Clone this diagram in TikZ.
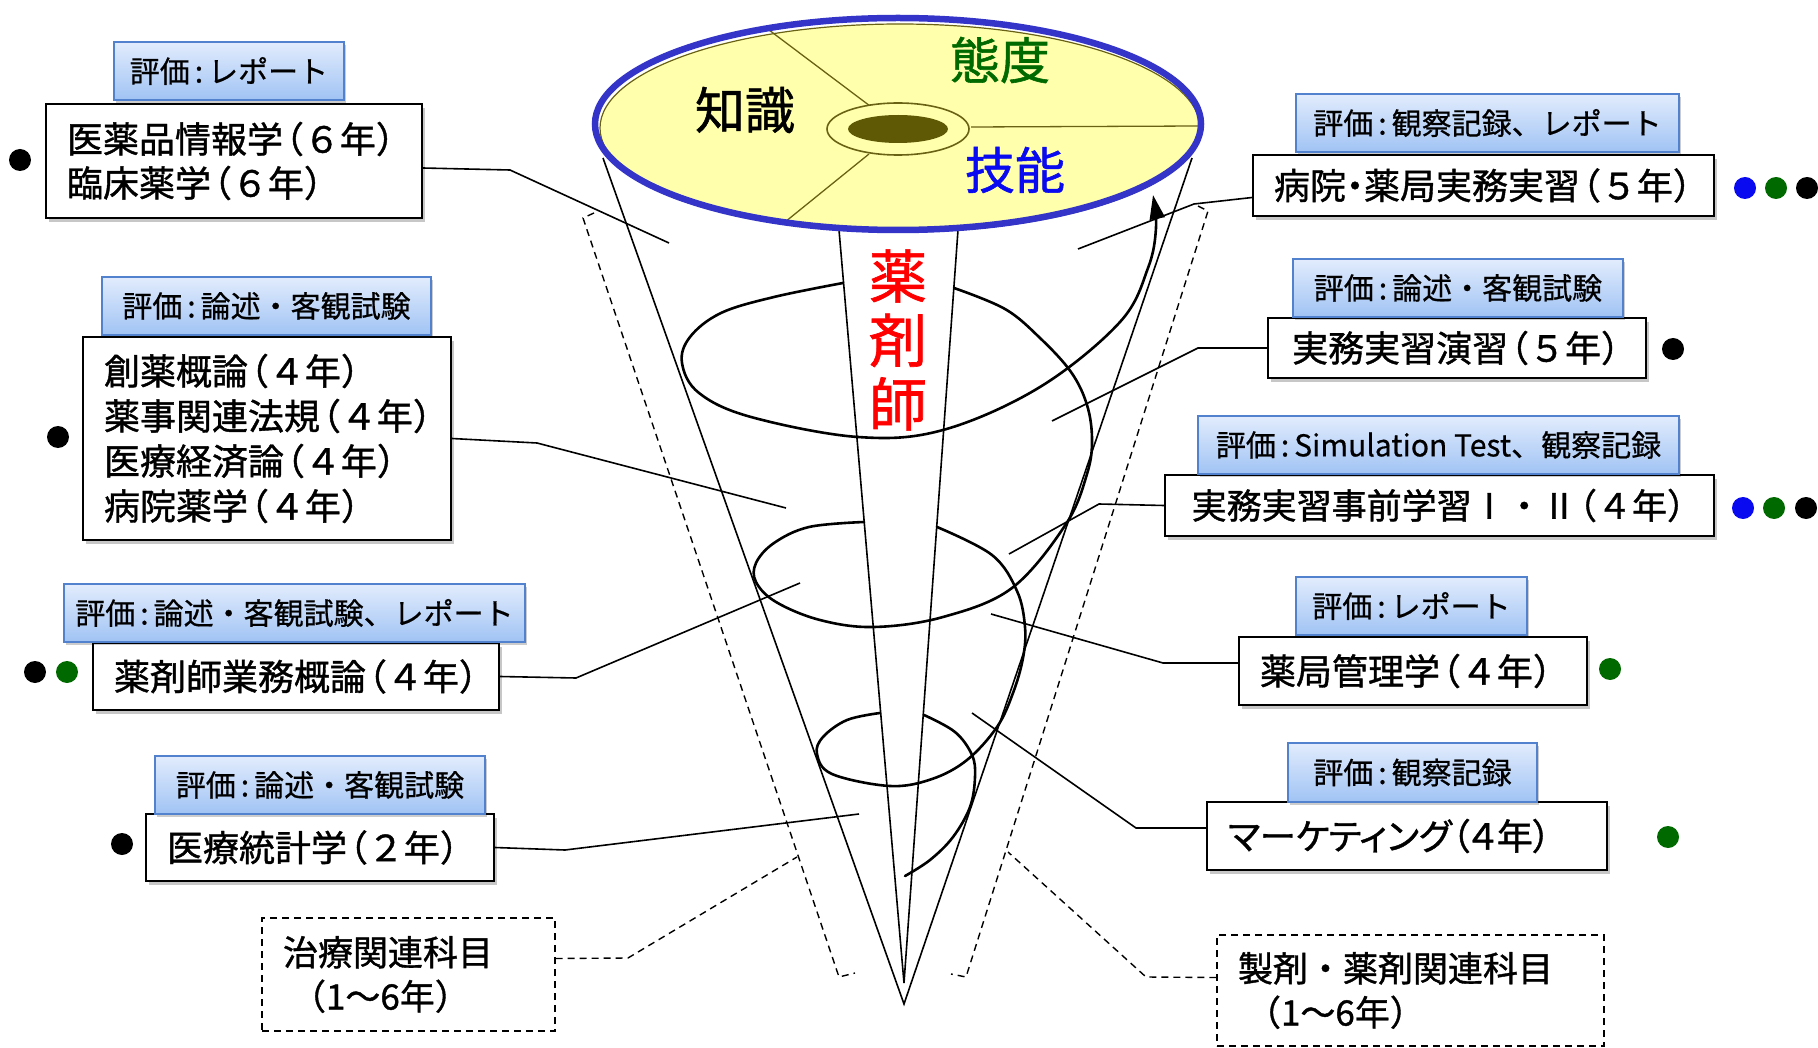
\documentclass[tikz,border=0pt]{standalone}
\usepackage{fontspec}
\setmainfont{Noto Sans CJK JP}
\newfontfamily\jpm{Noto Sans CJK JP}[FakeBold=1.1]
\newfontfamily\jpe{Noto Sans CJK JP}[FakeBold=0.6]
\newfontfamily\jpp{Noto Sans CJK JP}[FakeBold=1.1,RawFeature=+palt]
\newcommand\jlp{\kern-0.42em（}
\newcommand\jrp{）\kern-0.42em}
\newcommand\jdot{\kern-0.25em・\kern-0.25em}
\usetikzlibrary{shadows,arrows.meta}
\definecolor{evaltop}{RGB}{226,236,253}
\definecolor{evalbot}{RGB}{160,195,244}
\definecolor{evalborder}{RGB}{82,130,205}
\definecolor{diskfill}{RGB}{255,255,172}
\definecolor{diskolive}{RGB}{105,98,20}
\definecolor{holefill}{RGB}{95,88,5}
\definecolor{ringblue}{RGB}{52,52,200}
\definecolor{dgreen}{RGB}{0,105,0}
\definecolor{dblue}{RGB}{10,10,240}
\definecolor{kred}{RGB}{255,0,0}
\begin{document}
\begin{tikzpicture}[x=1pt,y=-1pt,
  cone/.style={line width=1.6pt},
  spiral/.style={line width=2.6pt, line cap=round},
  dashline/.style={line width=1.4pt, dash pattern=on 7pt off 5pt},
  conn/.style={line width=1.6pt},
  dconn/.style={line width=1.4pt, dash pattern=on 7pt off 5pt},
  mainbox/.style={draw=black, line width=1.8pt, fill=white, inner xsep=21pt, inner ysep=0pt,
    font=\jpm\fontsize{36}{44}\selectfont,
    drop shadow={shadow xshift=3pt, shadow yshift=-4pt, opacity=0.22, fill=black}},
  dashbox/.style={draw=black, line width=1.4pt, dash pattern=on 7pt off 5pt, fill=white,
    inner xsep=21pt, inner ysep=0pt, font=\jpm\fontsize{35}{44}\selectfont},
  evalbox/.style={draw=evalborder, line width=1.4pt, top color=evaltop, bottom color=evalbot,
    inner sep=0pt, font=\jpe\fontsize{30}{36}\selectfont,
    drop shadow={shadow xshift=2pt, shadow yshift=-3pt, opacity=0.2, fill=black}},
  dot/.style={circle, minimum size=22pt, inner sep=0pt},
  bigtext/.style={font=\jpm\fontsize{50}{60}\selectfont, inner sep=0pt}
]
\fill[white] (0,0) rectangle (1818,1048);
\useasboundingbox (0,0) rectangle (1818,1048);

% ---------- cone ----------
\coordinate (apex) at (904,1004);
\coordinate (iapex) at (904,983);
\draw[cone] (603,158) -- (apex) -- (1192,158);

% dashed side lines
\draw[dashline] (594,213) -- (583,218) -- (839,977) -- (855,973);
\draw[dashline] (1198,206) -- (1208,211) -- (966,977) -- (951,974);

% spiral
\draw[spiral] plot[smooth, tension=0.6] coordinates {(905,876) (930,860) (953,837) (970,807) (975,777) (972,755) (955,732) (924,715)};
\draw[spiral] plot[smooth, tension=0.6] coordinates {(880,713) (847,720) (823,737) (817,754) (832,774) (890,786) (932,779) (967,760) (997,727) (1013,693) (1023,658) (1025,627) (1017,591) (992,555) (937,527)};
\draw[spiral] plot[smooth, tension=0.6] coordinates {(864,522) (809,527) (774,543) (756,563) (756,582) (776,602) (820,620) (874,627) (943,617) (1012,588) (1066,524) (1087,474) (1092,440) (1087,405) (1071,372) (1040,338) (1005,309) (954,288)};
\draw[spiral, -{Triangle[length=24pt,width=15pt]}] plot[smooth, tension=0.6] coordinates {(843,283) (774,297) (721,313) (690,337) (682,363) (699,393) (751,417) (858,437) (943,430) (1040,387) (1120,322) (1148,268) (1156,228) (1153,195)};

% inner wedge
\draw[cone] (839,230) -- (iapex) -- (958,230);

% ---------- top disk ----------
\fill[diskfill, draw=diskolive, line width=1.2pt] (900,128) ellipse [x radius=300, y radius=104];
\draw[diskolive, line width=1.3pt] (769,30) -- (870,106);
\draw[diskolive, line width=1.3pt] (971,127) -- (1199,126);
\draw[diskolive, line width=1.3pt] (869,154) -- (785,222);
\filldraw[fill=diskfill, draw=diskolive, line width=1.6pt] (898,129) ellipse [x radius=71, y radius=26];
\fill[holefill] (898,129) ellipse [x radius=50, y radius=14];
\draw[ringblue, line width=6.5pt] (898,124) ellipse [x radius=303, y radius=106];

\node[bigtext] (kn) at (745,110) {知識};
\node[bigtext, text=dgreen] (td) at (1000,60) {態度};
\node[bigtext, text=dblue] (gn) at (1015,170) {技能};
\node[font=\jpm\fontsize{58}{64}\selectfont, text=kred, align=center, inner sep=0pt] (ph) at (898,340) {薬\\剤\\師};

% ---------- connector ends ----------
\coordinate (c1) at (669,243);
\coordinate (c2) at (786,508);
\coordinate (c3) at (800,583);
\coordinate (c4) at (859,814);
\coordinate (c5) at (797,857);
\coordinate (c6) at (1078,249);
\coordinate (c7) at (1052,421);
\coordinate (c8) at (1009,554);
\coordinate (c9) at (991,614);
\coordinate (c10) at (972,713);
\coordinate (c11) at (1008,852);

% ---------- left boxes ----------
\node[mainbox, minimum width=376pt, minimum height=114pt, text width=334pt, align=left] (b1) at (234,161) {医薬品情報学\jlp６年\jrp\\臨床薬学\jlp６年\jrp};
\node[evalbox, minimum width=230pt, minimum height=58pt] (e1) at (229,71) {評価\,:\,レポート};

\node[mainbox, minimum width=368pt, minimum height=203pt, text width=326pt, align=left, font=\jpm\fontsize{36}{45}\selectfont] (b2) at (267,438.5) {創薬概論\jlp４年\jrp\\薬事関連法規\jlp４年\jrp\\医療経済論\jlp４年\jrp\\病院薬学\jlp４年\jrp};
\node[evalbox, minimum width=329pt, minimum height=58pt] (e2) at (266.5,306) {評価\,:\,論述・客観試験};

\node[mainbox, minimum width=406pt, minimum height=67pt, text width=364pt, align=left] (b3) at (296,676.5) {薬剤師業務概論\jlp４年\jrp};
\node[evalbox, minimum width=461pt, minimum height=58pt] (e3) at (294.5,613) {評価\,:\,論述・客観試験、レポート};

\node[mainbox, minimum width=348pt, minimum height=67pt, text width=306pt, align=left] (b4) at (320,847.5) {医療統計学\jlp２年\jrp};
\node[evalbox, minimum width=330pt, minimum height=58pt] (e4) at (320,785) {評価\,:\,論述・客観試験};

\node[dashbox, minimum width=293pt, minimum height=113pt, text width=251pt, align=left] (t5) at (408.5,974.5) {治療関連科目\\\hspace*{8pt}（1〜6年）};

% ---------- right boxes ----------
\node[mainbox, minimum width=461pt, minimum height=61pt, text width=419pt, align=left] (b6) at (1483.5,185.5) {病院\jdot 薬局実務実習\jlp５年\jrp};
\node[evalbox, minimum width=383pt, minimum height=58pt] (e6) at (1487.5,123) {評価\,:\,観察記録、レポート};

\node[mainbox, minimum width=378pt, minimum height=60pt, text width=336pt, align=center] (b7) at (1457,348) {実務実習演習\jlp５年\jrp};
\node[evalbox, minimum width=330pt, minimum height=58pt] (e7) at (1458,288) {評価\,:\,論述・客観試験};

\node[mainbox, minimum width=549pt, minimum height=61pt, inner xsep=20pt, text width=509pt, align=center, font=\jpm\fontsize{35}{44}\selectfont] (b8) at (1439.5,505.5) {実務実習事前学習Ⅰ・Ⅱ\jlp４年\jrp};
\node[evalbox, minimum width=481pt, minimum height=58pt] (e8) at (1438.5,445) {評価\,:\,Simulation Test、観察記録};

\node[mainbox, minimum width=348pt, minimum height=68pt, text width=306pt, align=left] (b9) at (1413,671) {薬局管理学\jlp４年\jrp};
\node[evalbox, minimum width=231pt, minimum height=58pt] (e9) at (1411.5,606) {評価\,:\,レポート};

\node[mainbox, minimum width=400pt, minimum height=68pt, text width=358pt, align=left, font=\jpp\fontsize{36}{44}\selectfont] (b10) at (1407,836) {マーケティング（４年）};
\node[evalbox, minimum width=249pt, minimum height=59pt] (e10) at (1412.5,772.5) {評価\,:\,観察記録};

\node[dashbox, minimum width=387pt, minimum height=111pt, text width=345pt, align=left] (t11) at (1410.5,990.5) {製剤・薬剤関連科目\\\hspace*{8pt}（1〜6年）};

% ---------- connectors ----------
\draw[conn] ([yshift=-7pt]b1.east) -- (510,170) -- (c1);
\draw[conn] (b2.east) -- (537,443) -- (c2);
\draw[conn] (b3.east) -- (576,678) -- (c3);
\draw[conn] (b4.east) -- (565,850) -- (c4);
\draw[dconn] ([yshift=16pt]t5.east) -- (628,958) -- (c5);
\draw[conn] ([yshift=-12pt]b6.west) -- (1194,204) -- (c6);
\draw[conn] (b7.west) -- (1198,348) -- (c7);
\draw[conn] (b8.west) -- (1099,504) -- (c8);
\draw[conn] ([yshift=8pt]b9.west) -- (1163,663) -- (c9);
\draw[conn] ([yshift=8pt]b10.west) -- (1136,828) -- (c10);
\draw[dconn] ([yshift=13pt]t11.west) -- (1146,977) -- (c11);

% ---------- dots ----------
\node[dot, fill=black] (d1) at (20,160) {};
\node[dot, fill=black] (d2) at (58,437) {};
\node[dot, fill=black] (d3a) at (35,672) {};
\node[dot, fill=dgreen] (d3b) at (67,672) {};
\node[dot, fill=black] (d4) at (122,844) {};
\node[dot, fill=dblue] (d6a) at (1745,188) {};
\node[dot, fill=dgreen] (d6b) at (1776,188) {};
\node[dot, fill=black] (d6c) at (1807,188) {};
\node[dot, fill=black] (d7) at (1673,349) {};
\node[dot, fill=dblue] (d8a) at (1743,508) {};
\node[dot, fill=dgreen] (d8b) at (1774,508) {};
\node[dot, fill=black] (d8c) at (1806,508) {};
\node[dot, fill=dgreen] (d9) at (1610,669) {};
\node[dot, fill=dgreen] (d10) at (1668,837) {};
\end{tikzpicture}
\end{document}
